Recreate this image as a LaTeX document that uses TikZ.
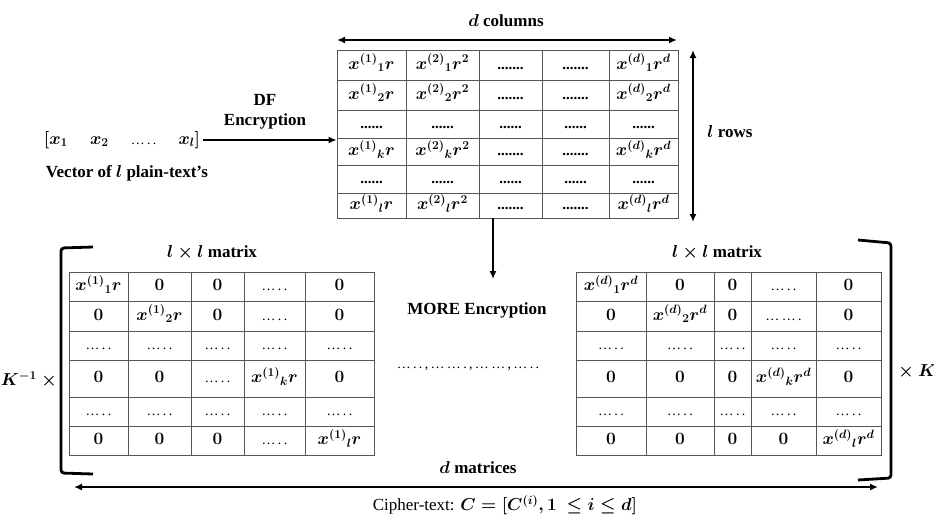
\documentclass[tikz,border=0pt]{standalone}
\usepackage{fontspec}
\setmainfont{Liberation Serif}
\usetikzlibrary{arrows.meta}

\definecolor{gridgray}{HTML}{555555}

% one table cell: name, x1, y1, x2, y2, content
\newcommand\mkcell[6]{%
  \node[gridcell, minimum width={(#4-#2)*1pt}, minimum height={(#5-#3)*1pt}]
    (#1) at ({(#2+#4)/2},{(#3+#5)/2}) {#6};}
% column edges of the table being drawn
\newcommand\mkcols[6]{\def\ca{#1}\def\cb{#2}\def\cc{#3}\def\cd{#4}\def\ce{#5}\def\cf{#6}}
% one table row: prefix, row index, y1, y2, five contents
\newcommand\mkrow[9]{%
  \mkcell{#1-#2-1}{\ca}{#3}{\cb}{#4}{#5}%
  \mkcell{#1-#2-2}{\cb}{#3}{\cc}{#4}{#6}%
  \mkcell{#1-#2-3}{\cc}{#3}{\cd}{#4}{#7}%
  \mkcell{#1-#2-4}{\cd}{#3}{\ce}{#4}{#8}%
  \mkcell{#1-#2-5}{\ce}{#3}{\cf}{#4}{#9}}

\newcommand\tdots{{\fontsize{15}{16}\selectfont .......}}
\newcommand\sdots{{\fontsize{15}{16}\selectfont ......}}
\newcommand\mdots{{\mdseries\fontsize{14}{16}\selectfont\ldots\,.\,.}}

\begin{document}
\begin{tikzpicture}[x=1pt,y=-1pt,
  font=\fontsize{17}{20}\selectfont\bfseries\boldmath,
  gridcell/.style={draw=gridgray, line width=0.8pt, inner sep=0pt, anchor=center,
    text height=11pt, text depth=3pt, font=\fontsize{18.5}{20}\selectfont\bfseries\boldmath},
  lbl/.style={inner sep=0pt},
  arr/.style={line width=2pt, -{Latex[length=8pt,width=7pt]}},
  darr/.style={line width=2pt, {Latex[length=8pt,width=7pt]}-{Latex[length=8pt,width=7pt]}},
  bracket/.style={line width=2.8pt, rounded corners=3pt}]

\useasboundingbox (0,0) rectangle (934,522);

% ---------- plain-text vector ----------
\node[lbl] (vec) at (122,140) {$[x_1$\hspace{1.3em}$x_2$\hspace{1.3em}\mdots\hspace{1.3em}$x_l]$};
\node[lbl] (vcap) at (127,173) {Vector of $l$ plain-text’s};
\node[lbl, align=center] (df) at (265,112) {DF\\Encryption};

% ---------- DF cipher table ----------
\mkcols{337}{406}{479}{542}{609}{678}
\mkrow{T}{1}{50}{80}{$x^{(1)}{}_1r$}{$x^{(2)}{}_1r^2$}{\tdots}{\tdots}{$x^{(d)}{}_1r^d$}
\mkrow{T}{2}{80}{110}{$x^{(1)}{}_2r$}{$x^{(2)}{}_2r^2$}{\tdots}{\tdots}{$x^{(d)}{}_2r^d$}
\mkrow{T}{3}{110}{138}{\sdots}{\sdots}{\sdots}{\sdots}{\sdots}
\mkrow{T}{4}{138}{165}{$x^{(1)}{}_kr$}{$x^{(2)}{}_kr^2$}{\tdots}{\tdots}{$x^{(d)}{}_kr^d$}
\mkrow{T}{5}{165}{193}{\sdots}{\sdots}{\sdots}{\sdots}{\sdots}
\mkrow{T}{6}{193}{218}{$x^{(1)}{}_lr$}{$x^{(2)}{}_lr^2$}{\tdots}{\tdots}{$x^{(d)}{}_lr^d$}

\draw[arr] ([xshift=3pt]vec.east) -- (vec.east -| T-3-1.south west);

\coordinate (dcL) at (337,40);
\coordinate (dcR) at (677,40);
\draw[darr] (dcL) -- (dcR);
\node[lbl] (dcol) at (506,21) {$d$ columns};

\coordinate (lrT) at (693,50);
\coordinate (lrB) at (693,222);
\draw[darr] (lrT) -- (lrB);
\node[lbl] (lrow) at (730,132) {$l$ rows};

\coordinate (mdown) at (493,279);
\draw[arr] (T-6-3.south -| mdown) -- (mdown);

\node[lbl] (more) at (477,310) {MORE Encryption};
\node[lbl] (mid) at (468,369) {\mdseries\fontsize{14}{16}\selectfont
  \ldots\,.\,.\,,\,\ldots\,\ldots\,.\,,\,\ldots\,\ldots\,,\,\ldots\,.\,.};

% ---------- first diagonal matrix ----------
\mkcols{69}{128}{191}{244}{305}{374}
\mkrow{L}{1}{272}{301}{$x^{(1)}{}_1r$}{$0$}{$0$}{\mdots}{$0$}
\mkrow{L}{2}{301}{331}{$0$}{$x^{(1)}{}_2r$}{$0$}{\mdots}{$0$}
\mkrow{L}{3}{331}{360}{\mdots}{\mdots}{\mdots}{\mdots}{\mdots}
\mkrow{L}{4}{360}{397}{$0$}{$0$}{\mdots}{$x^{(1)}{}_kr$}{$0$}
\mkrow{L}{5}{397}{426}{\mdots}{\mdots}{\mdots}{\mdots}{\mdots}
\mkrow{L}{6}{426}{455}{$0$}{$0$}{$0$}{\mdots}{$x^{(1)}{}_lr$}
\node[lbl] (lmat) at (212,253) {$l\times l$ matrix};

% ---------- last diagonal matrix ----------
\mkcols{576}{646}{714}{751}{816}{881}
\mkrow{R}{1}{272}{301}{$x^{(d)}{}_1r^d$}{$0$}{$0$}{\mdots}{$0$}
\mkrow{R}{2}{301}{331}{$0$}{$x^{(d)}{}_2r^d$}{$0$}{{\mdseries\fontsize{14}{16}\selectfont\ldots\,\ldots\,.}}{$0$}
\mkrow{R}{3}{331}{360}{\mdots}{\mdots}{\mdots}{\mdots}{\mdots}
\mkrow{R}{4}{360}{397}{$0$}{$0$}{$0$}{$x^{(d)}{}_kr^d$}{$0$}
\mkrow{R}{5}{397}{426}{\mdots}{\mdots}{\mdots}{\mdots}{\mdots}
\mkrow{R}{6}{426}{455}{$0$}{$0$}{$0$}{$0$}{$x^{(d)}{}_lr^d$}
\node[lbl] (rmat) at (717,253) {$l\times l$ matrix};

% ---------- outer bracket and keys ----------
\draw[bracket] (93,247) -- (61,248) -- (61,473) -- (93,474);
\draw[bracket] (858,240) -- (891,243) -- (891,478) -- (858,480);
\node[lbl] (kinv) at (31,380) {$K^{-1}\times{}$};
\node[lbl] (kmul) at (915,372) {${}\times K$};

\coordinate (bmL) at (74,487);
\coordinate (bmR) at (878,487);
\draw[darr] (bmL) -- (bmR);
\node[lbl] (dmat) at (478,468) {$d$ matrices};
\node[lbl] (ciph) at (505,505) {\mdseries Cipher-text: $C=[C^{(i)},1\ \le i\le d]$};
\end{tikzpicture}
\end{document}
